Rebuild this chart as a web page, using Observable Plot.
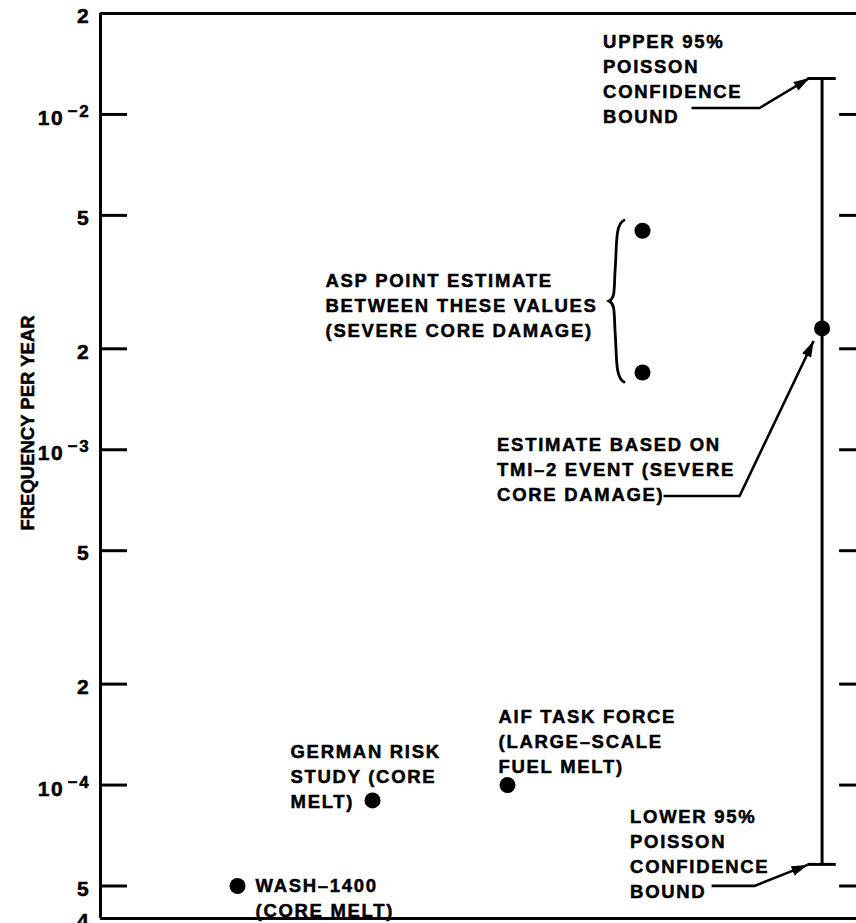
<!DOCTYPE html>
<html>
<head>
<meta charset="utf-8">
<script src="https://cdn.jsdelivr.net/npm/d3@7"></script>
<script src="https://cdn.jsdelivr.net/npm/@observablehq/plot@0.6"></script>
<style>
  html, body { margin: 0; padding: 0; background: white; overflow: hidden; }
  #chart svg text { letter-spacing: 1.7px; }
</style>
</head>
<body>
<div id="chart"></div>
<script>
// ---------- data ----------
const pointNames   = ["WASH-1400", "German Risk Study", "AIF Task Force", "ASP high", "ASP low", "TMI-2"];
const pointColumn  = [1, 2, 3, 4, 4, 5.33];
const pointFreq    = [5e-5, 9e-5, 1e-4, 4.5e-3, 1.7e-3, 2.3e-3];

const tmiColumn = 5.33;
const tmiEstimate = 2.3e-3;
const tmiLower = 5.8e-5;
const tmiUpper = 1.28e-2;

const aspColumn = 4;
const aspHigh = 4.5e-3;
const aspLow = 1.7e-3;

const yDomain = [4e-5, 2e-2];
const xDomain = [-0.015, 5.585];
const tickValues   = [4e-5, 5e-5, 1e-4, 2e-4, 5e-4, 1e-3, 2e-3, 5e-3, 1e-2, 2e-2];
const tickMantissa = ["4", "5", "10", "2", "5", "10", "2", "5", "10", "2"];
const tickExponent = ["", "", "−4", "", "", "−3", "", "", "−2", ""];
const innerTicks   = [5e-5, 1e-4, 2e-4, 5e-4, 1e-3, 2e-3, 5e-3, 1e-2];

const yTitle = "FREQUENCY PER YEAR";

// annotation texts, anchored to a data point (column, frequency)
const labelText = [
  "WASH–1400\n(CORE MELT)",
  "GERMAN RISK\nSTUDY (CORE\nMELT)",
  "AIF TASK FORCE\n(LARGE–SCALE\nFUEL MELT)",
  "ASP POINT ESTIMATE\nBETWEEN THESE VALUES\n(SEVERE CORE DAMAGE)",
  "UPPER 95%\nPOISSON\nCONFIDENCE\nBOUND",
  "ESTIMATE BASED ON\nTMI–2 EVENT (SEVERE\nCORE DAMAGE)",
  "LOWER 95%\nPOISSON\nCONFIDENCE\nBOUND"
];
const labelColumn = [1, 2, 3, aspColumn, tmiColumn, tmiColumn, tmiColumn];
const labelFreq   = [5e-5, 9e-5, 1e-4, aspHigh, tmiUpper, tmiEstimate, tmiLower];
// layout offsets (px) of each label's first line cap-top / left edge
const labelDx = [18, -82, -9, -317, -219, -325, -192];
const labelDy = [-12, -60, -80, 39, -48, 105, -59];

// leader lines (px offsets from anchor point): start, knee, arrow tip
const leaderFreq = [tmiUpper, tmiEstimate, tmiLower];
const leaderPath = [
  [[-130, 30], [-62, 30], [-12, 0]],
  [[-158, 168], [-82, 168], [-8, 13]],
  [[-110, 22], [-67, 22], [-14, 1]]
];

// ---------- build ----------
const points = pointNames.map((n, i) => ({name: n, col: pointColumn[i], freq: pointFreq[i]}));
const ticks = tickValues.map((v, i) => ({v, m: tickMantissa[i], e: tickExponent[i]}));
const labels = labelText.map((t, i) => ({text: t, col: labelColumn[i], freq: labelFreq[i], dx: labelDx[i], dy: labelDy[i]}));

function annotations(index, scales) {
  const X = scales.x, Y = scales.y;
  const g = d3.create("svg:g").attr("fill", "none").attr("stroke", "black");
  // curly brace for ASP range
  const bx = X(aspColumn);
  const top = Y(aspHigh) - 10, bot = Y(aspLow) + 10, mid = (top + bot) / 2;
  const xr = bx - 18, xm = bx - 27, xl = bx - 33;
  g.append("path").attr("stroke-width", 2.8).attr("stroke-linecap", "round")
    .attr("d", `M${xr},${top} C${xm},${top + 4} ${xm + 2},${top + 25} ${xm},${mid - 30} C${xm - 1},${mid - 10} ${xm},${mid - 3} ${xl},${mid} C${xm},${mid + 3} ${xm - 1},${mid + 10} ${xm},${mid + 30} C${xm + 2},${bot - 25} ${xm},${bot - 4} ${xr},${bot}`);
  // leader lines with arrowheads
  leaderFreq.forEach((f, k) => {
    const px = X(tmiColumn), py = Y(f);
    const pts = leaderPath[k].map(([dx, dy]) => [px + dx, py + dy]);
    g.append("path").attr("stroke-width", 2.6).attr("d", d3.line()(pts));
    const a = pts[pts.length - 2], b = pts[pts.length - 1];
    const ang = Math.atan2(b[1] - a[1], b[0] - a[0]);
    const len = 16, hw = 5;
    const c = Math.cos(ang), s = Math.sin(ang);
    const p1 = [b[0] - len * c + hw * s, b[1] - len * s - hw * c];
    const p2 = [b[0] - len * c - hw * s, b[1] - len * s + hw * c];
    g.append("path").attr("fill", "black").attr("stroke", "none")
      .attr("d", `M${b[0]},${b[1]}L${p1[0]},${p1[1]}L${p2[0]},${p2[1]}Z`);
  });
  return g.node();
}

const font = 18.5;
const ink = {fontWeight: "bold", fill: "black", stroke: "black", strokeWidth: 0.5};
const labelMarks = labels.map(l => Plot.text([l], {
  x: "col", y: "freq", text: "text",
  dx: l.dx, dy: l.dy,
  textAnchor: "start", lineAnchor: "top", lineHeight: 1.35,
  fontSize: font, ...ink
}));

const chart = Plot.plot({
  width: 856,
  height: 923,
  marginTop: 13,
  marginBottom: 5,
  marginLeft: 100,
  marginRight: 0,
  x: {domain: xDomain, axis: null},
  y: {type: "log", domain: yDomain, axis: null},
  style: {fontFamily: "'Liberation Sans', Arial, Helvetica, sans-serif", background: "white", color: "black", overflow: "visible"},
  marks: [
    // frame (left, top, bottom)
    Plot.ruleY(yDomain, {y: d => d, stroke: "black", strokeWidth: 3}),
    Plot.ruleX([xDomain[0]], {x: d => d, stroke: "black", strokeWidth: 3}),
    // inward ticks left and right
    Plot.ruleY(innerTicks, {y: d => d, x1: () => xDomain[0], x2: () => xDomain[0] + 0.2, stroke: "black", strokeWidth: 3}),
    Plot.ruleY(innerTicks, {y: d => d, x1: () => xDomain[1] - 0.125, x2: () => xDomain[1], stroke: "black", strokeWidth: 3}),
    // tick labels
    Plot.text(ticks.filter(t => !t.e), {y: "v", text: "m", frameAnchor: "left", dx: -10, dy: 3, textAnchor: "end", fontSize: 21, ...ink}),
    Plot.text(ticks.filter(t => t.e), {y: "v", text: "m", frameAnchor: "left", dx: -36, dy: 4, textAnchor: "end", fontSize: 21, ...ink}),
    Plot.text(ticks.filter(t => t.e), {y: "v", text: "e", frameAnchor: "left", dx: -10, dy: -3, textAnchor: "end", fontSize: 17, ...ink}),
    // y title
    Plot.text([yTitle], {text: d => d, frameAnchor: "left", textAnchor: "middle", rotate: -90, dx: -72, dy: -43, fontSize: 18.5, ...ink}),
    // TMI error bar
    Plot.ruleX([tmiColumn], {x: d => d, y1: () => tmiLower, y2: () => tmiUpper, stroke: "black", strokeWidth: 3}),
    Plot.ruleY([tmiLower, tmiUpper], {y: d => d, x1: () => tmiColumn - 0.105, x2: () => tmiColumn + 0.105, stroke: "black", strokeWidth: 3}),
    // points
    Plot.dot(points, {x: "col", y: "freq", r: 8, fill: "black", stroke: "none"}),
    // annotations
    ...labelMarks,
    annotations
  ]
});
document.getElementById("chart").appendChild(chart);
d3.select(chart).selectAll("text").filter(function() { return this.textContent === yTitle; }).style("letter-spacing", "0px");
</script>
</body>
</html>
